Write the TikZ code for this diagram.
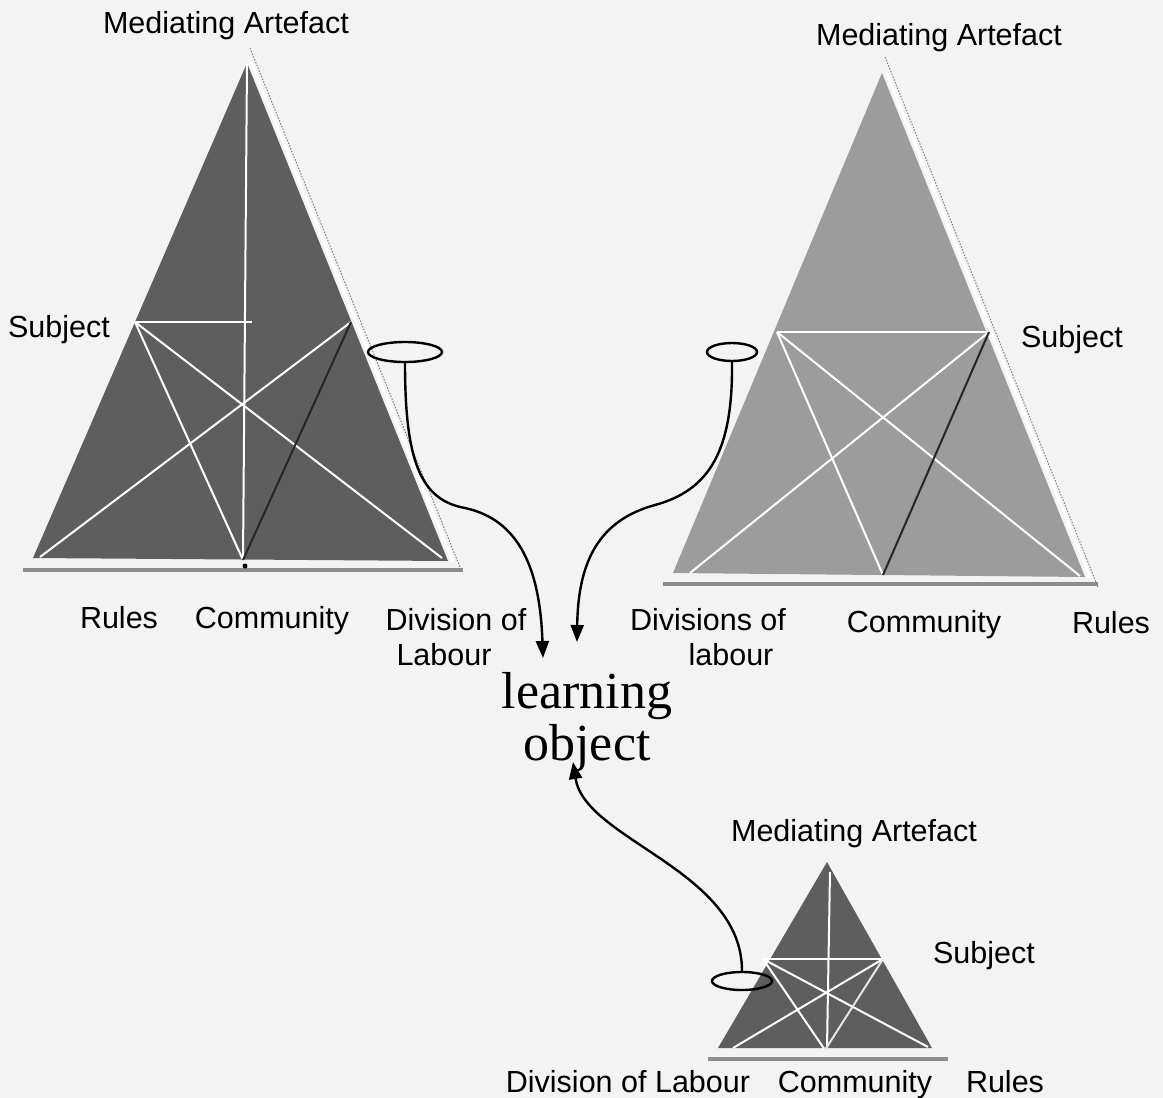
\documentclass[tikz,border=0pt]{standalone}
\usepackage{fontspec}
\setmainfont{Liberation Sans}
\newfontfamily\serifrm{Liberation Serif}
\usetikzlibrary{shapes.geometric,arrows.meta}
\definecolor{bgcol}{HTML}{F3F3F3}
\definecolor{darktri}{HTML}{5E5E5E}
\definecolor{midtri}{HTML}{9C9C9C}
\definecolor{baseg}{HTML}{8C8C8C}
\begin{document}
\begin{tikzpicture}[x=1pt,y=-1pt,
 lbl/.style={font=\fontsize{30.5}{34}\selectfont, anchor=base, inner sep=0pt},
 big/.style={font=\serifrm\fontsize{52}{56}\selectfont, anchor=base, inner sep=0pt},
 wl/.style={draw=white, line width=2pt},
 dl/.style={draw=black!85, line width=2pt},
 lgl/.style={draw=white!80!gray, line width=2pt},
 edgew/.style={draw=white, line width=3pt},
 dots/.style={draw=gray, line width=1pt, dash pattern=on 1.5pt off 1.5pt},
 baseln/.style={draw=baseg, line width=4.5pt},
 ring/.style={draw=black, line width=2.4pt, ellipse, inner sep=0pt},
 arr/.style={draw=black, line width=2.4pt, -{Triangle[length=17pt,width=13pt]}},
]
\useasboundingbox (0,0) rectangle (1163,1098);
\fill[bgcol] (0,0) rectangle (1163,1098);

% ---------- left triangle ----------
\coordinate (LA) at (247,63);
\coordinate (LBL) at (33,558);
\coordinate (LBR) at (448,561);
\coordinate (LL) at (135,322);
\coordinate (LR) at (351,322);
\coordinate (LC) at (243,560);
\coordinate (LH) at (252,322);
\draw[baseln] (23,570) -- (463,570);
\fill[darktri] (LA) -- (LBL) -- (LBR) -- cycle;
\draw[edgew] (251,62) -- (453,562);
\draw[dots] (250,48) -- (462,572);
\draw[wl] (LA) -- (LC);
\draw[wl] (LL) -- (LH);
\draw[wl] (LL) -- (442,558);
\draw[wl] (LR) -- (40,557);
\draw[wl] (LL) -- (LC);
\draw[dl] (LR) -- (LC);
\fill[black] (245,566) circle (2.5);

% ---------- right triangle ----------
\coordinate (RA) at (882,73);
\coordinate (RBL) at (673,573);
\coordinate (RBR) at (1085,577);
\coordinate (RL) at (777,332);
\coordinate (RR) at (989,332);
\coordinate (RC) at (883,575);
\draw[baseln] (663,584) -- (1098,584);
\fill[midtri] (RA) -- (RBL) -- (RBR) -- cycle;
\draw[edgew] (886,72) -- (1090,577);
\draw[dots] (885,57) -- (1098,587);
\draw[wl] (RL) -- (RR);
\draw[wl] (RL) -- (1080,576);
\draw[wl] (RR) -- (690,573);
\draw[wl] (RL) -- (RC);
\draw[dl] (RR) -- (RC);

% ---------- bottom triangle ----------
\coordinate (BA) at (827,862);
\coordinate (BBL) at (718,1048);
\coordinate (BBR) at (932,1048);
\coordinate (BL) at (763,959);
\coordinate (BR) at (883,959);
\coordinate (BC) at (825,1050);
\draw[baseln] (708,1059) -- (948,1059);
\fill[darktri] (BA) -- (BBL) -- (BBR) -- cycle;
\draw[wl] (830,872) -- (827,1048);
\draw[wl] (BL) -- (BR);
\draw[wl] (BL) -- (928,1047);
\draw[wl] (BR) -- (733,1048);
\draw[wl] (BL) -- (BC);
\draw[lgl] (BR) -- (BC);

% ---------- ellipses and arrows ----------
\node[ring, minimum width=74pt, minimum height=20pt] (e1) at (405,352) {};
\node[ring, minimum width=50pt, minimum height=18pt] (e2) at (732,352) {};
\node[ring, minimum width=60pt, minimum height=18pt] (e3) at (742,981) {};
\coordinate (t1) at (543,658);
\coordinate (t2) at (577,642);
\coordinate (t3) at (573,762);
\draw[arr] (e1.south) .. controls (405,460) and (420,500) .. (465,508)
  .. controls (520,520) and (540,570) .. (t1);
\draw[arr] (e2.south) .. controls (733,450) and (710,490) .. (655,505)
  .. controls (600,520) and (578,560) .. (t2);
\draw[arr] (e3.north) .. controls (742,870) and (585,840) .. (t3);

% ---------- labels ----------
\node[lbl] (ma1) at (226,33) {Mediating Artefact};
\node[lbl] (su1) at (59,337) {Subject};
\node[lbl] (ru1) at (119,628) {Rules};
\node[lbl] (co1) at (272,628) {Community};
\node[lbl] (dl1a) at (456,630) {Division of};
\node[lbl] (dl1b) at (444,665) {Labour};

\node[lbl] (ma2) at (939,45) {Mediating Artefact};
\node[lbl] (su2) at (1072,347) {Subject};
\node[lbl] (dl2a) at (708,630) {Divisions of};
\node[lbl] (dl2b) at (731,665) {labour};
\node[lbl] (co2) at (924,632) {Community};
\node[lbl] (ru2) at (1111,633) {Rules};

\node[lbl] (ma3) at (854,841) {Mediating Artefact};
\node[lbl] (su3) at (984,963) {Subject};
\node[lbl] (dl3) at (628,1092) {Division of Labour};
\node[lbl] (co3) at (855,1092) {Community};
\node[lbl] (ru3) at (1005,1092) {Rules};

\node[big] (lo1) at (587,708) {learning};
\node[big] (lo2) at (587,760) {object};
\end{tikzpicture}
\end{document}
